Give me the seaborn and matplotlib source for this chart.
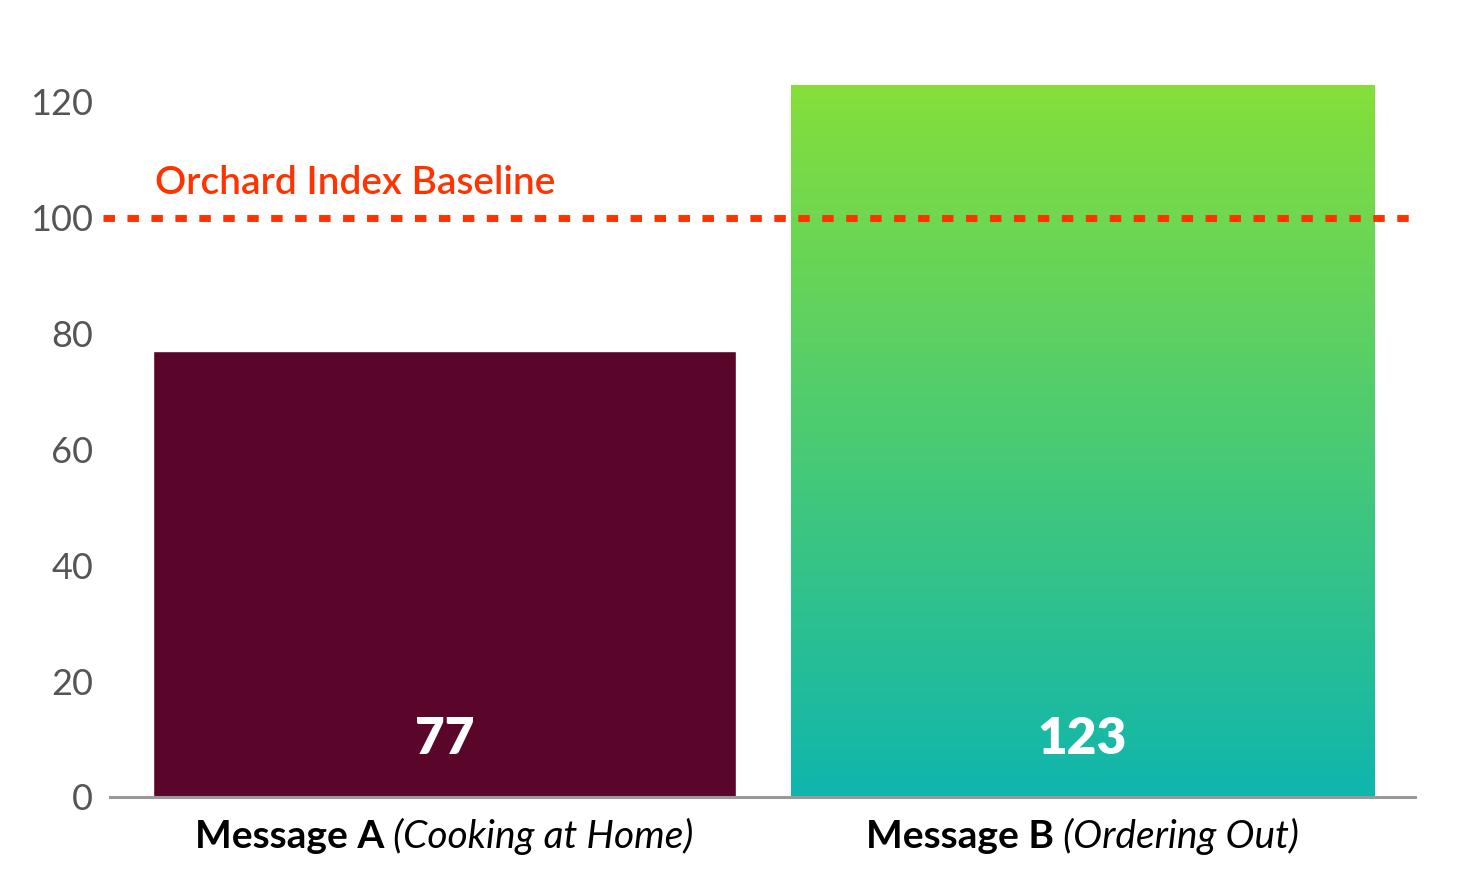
import matplotlib
matplotlib.use("Agg")
import matplotlib.pyplot as plt
import seaborn as sns
import numpy as np
import pandas as pd
from matplotlib.colors import LinearSegmentedColormap

# data
messages = ["Message A", "Message B"]
subtitles = ["(Cooking at Home)", "(Ordering Out)"]
scores = [77, 123]
baseline = 100
baseline_label = "Orchard Index Baseline"
yticks = [0, 20, 40, 60, 80, 100, 120]

color_a = "#5A052A"
grad_top = "#86DF3A"
grad_bottom = "#0FB6AD"
red = "#FF3300"

sns.set_theme(style="white")
plt.rcParams["font.family"] = ["Lato", "DejaVu Sans"]

df = pd.DataFrame({"message": messages, "score": scores})

fig = plt.figure(figsize=(14.68, 8.9), dpi=100)
ax = fig.add_axes([0.0749, 0.1045, 0.889, 0.846])

sns.barplot(data=df, x="message", y="score", hue="message",
            palette=[color_a, grad_top], width=0.914, saturation=1,
            legend=False, ax=ax)

ax.set_xlim(-0.524, 1.521)
ax.set_ylim(0, 130)

# gradient fill for the second bar
bar_b = ax.patches[1]
bx, by = bar_b.get_x(), bar_b.get_y()
bw, bh = bar_b.get_width(), bar_b.get_height()
cmap = LinearSegmentedColormap.from_list("g", [grad_bottom, grad_top])
grad = np.linspace(0, 1, 256).reshape(-1, 1)
im = ax.imshow(grad, cmap=cmap, origin="lower", aspect="auto",
               extent=[bx, bx + bw, by, by + bh], zorder=2)
im.set_clip_path(bar_b)
ax.set_xlim(-0.524, 1.521)
ax.set_ylim(0, 130)

# baseline
ax.plot([-0.535, 1.521], [baseline, baseline], color=red, lw=5,
        dashes=(1.65, 1.8), zorder=3, clip_on=False,
        dash_capstyle="butt")
ax.text(-0.453, baseline + 6, baseline_label, color=red, fontsize=28,
        fontweight="semibold", va="center", ha="left")

# value labels
for i, v in enumerate(scores):
    ax.text(i, 10.0, str(v), color="white", fontsize=37, fontweight="heavy",
            ha="center", va="center", zorder=4)

ax.set_yticks(yticks)
ax.set_yticklabels([str(t) for t in yticks], fontsize=26, color="#555555",
                   fontweight="normal")
ax.tick_params(axis="y", length=0, pad=12)
ax.set_xticks([0, 1])
ax.set_xticklabels([])
ax.tick_params(axis="x", length=0)
ax.set_xlabel("")
ax.set_ylabel("")

for s in ["top", "right", "left"]:
    ax.spines[s].set_visible(False)
ax.spines["bottom"].set_color("#999999")
ax.spines["bottom"].set_linewidth(2.2)
ax.spines["bottom"].set_zorder(5)

# category labels: bold name + italic subtitle, centred as a pair
fig.canvas.draw()
renderer = fig.canvas.get_renderer()
for i, (name, sub) in enumerate(zip(messages, subtitles)):
    t1 = ax.text(i, -6.8, name, fontsize=28, fontweight="bold", color="black",
                 ha="left", va="center")
    t2 = ax.text(i, -6.8, " " + sub, fontsize=28, fontstyle="italic",
                 color="black", ha="left", va="center")
    w1 = t1.get_window_extent(renderer).width
    w2 = t2.get_window_extent(renderer).width
    x0_px = ax.transData.transform((i, 0))[0] - (w1 + w2) / 2
    x0 = ax.transData.inverted().transform((x0_px, 0))[0]
    x1 = ax.transData.inverted().transform((x0_px + w1, 0))[0]
    t1.set_x(x0)
    t2.set_x(x1)

fig.savefig("out.png", dpi=100)
